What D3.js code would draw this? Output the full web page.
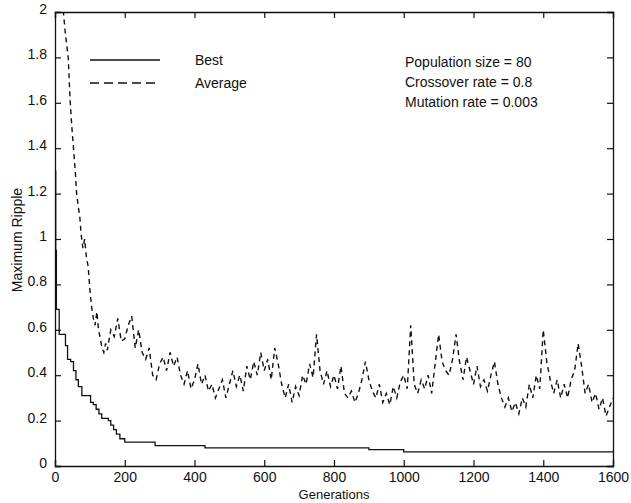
<!DOCTYPE html>
<html><head><meta charset="utf-8">
<script src="https://cdn.jsdelivr.net/npm/d3@7"></script>
<style>
body{margin:0;background:#fff;}
text{font-family:"Liberation Sans",Arial,Helvetica,sans-serif;fill:#111;}
</style></head>
<body><svg id="c" width="631" height="503"></svg>
<script>
const xTicks = [0,200,400,600,800,1000,1200,1400,1600];
const yTicks = [0,0.2,0.4,0.6,0.8,1,1.2,1.4,1.6,1.8,2];
const yTickLabels = ["0","0.2","0.4","0.6","0.8","1","1.2","1.4","1.6","1.8","2"];

const bestGen = [0,2,4,12,30,36,45,53,60,67,77,102,110,118,126,134,153,160,168,176,186,200,287,430,900,1000,1600];
const bestVal = [1.3,0.95,0.69,0.58,0.53,0.47,0.46,0.42,0.38,0.35,0.31,0.28,0.27,0.25,0.23,0.21,0.2,0.18,0.16,0.14,0.12,0.105,0.09,0.08,0.072,0.062,0.062];

const avgGen = [0,10,20,24,30,38,43,48,53,58,62,67,71,75,80,85,90,95,100,105,110,115,120,125,130,135,140,145,150,
 160,170,180,190,200,210,220,230,240,250,260,270,280,290,300,310,320,330,340,350,360,370,380,390,400,
 410,420,430,440,450,460,470,480,490,500,510,520,530,540,550,560,570,580,590,600,610,620,630,640,650,
 660,670,680,690,700,710,720,730,740,750,760,770,780,790,800,810,820,830,840,850,860,870,880,890,900,
 910,920,930,940,950,960,970,980,990,1000,1010,1020,1030,1040,1050,1060,1070,1080,1090,1100,1110,1120,1130,1140,1150,
 1160,1170,1180,1190,1200,1210,1220,1230,1240,1250,1260,1270,1280,1290,1300,1310,1320,1330,1340,1350,1360,1370,1380,1390,1400,
 1410,1420,1430,1440,1450,1460,1470,1480,1490,1500,1510,1520,1530,1540,1550,1560,1570,1580,1590,1600];
const avgVal = [2.6,2.35,2.08,2.0,1.9,1.8,1.62,1.5,1.4,1.3,1.2,1.14,1.1,1.02,0.96,1.0,0.92,0.88,0.78,0.7,0.65,0.62,0.68,0.6,0.56,0.52,0.5,0.54,0.51,
 0.6,0.57,0.65,0.55,0.56,0.62,0.66,0.52,0.6,0.5,0.47,0.52,0.4,0.38,0.45,0.48,0.42,0.5,0.44,0.48,0.4,0.36,0.42,0.34,0.38,
 0.45,0.36,0.4,0.33,0.36,0.3,0.34,0.38,0.3,0.36,0.42,0.35,0.4,0.33,0.44,0.38,0.46,0.4,0.5,0.42,0.47,0.38,0.52,0.45,0.36,
 0.3,0.36,0.28,0.35,0.31,0.4,0.36,0.45,0.39,0.58,0.42,0.36,0.42,0.35,0.4,0.34,0.44,0.32,0.3,0.33,0.28,0.32,0.38,0.46,0.38,
 0.33,0.3,0.36,0.28,0.32,0.27,0.35,0.3,0.37,0.4,0.34,0.62,0.36,0.32,0.38,0.34,0.4,0.32,0.45,0.58,0.46,0.42,0.4,0.47,0.58,
 0.46,0.38,0.48,0.42,0.36,0.44,0.35,0.38,0.33,0.4,0.46,0.36,0.3,0.26,0.3,0.24,0.28,0.23,0.3,0.26,0.36,0.3,0.4,0.34,0.6,
 0.46,0.38,0.32,0.38,0.3,0.36,0.3,0.38,0.42,0.54,0.44,0.32,0.36,0.28,0.32,0.25,0.3,0.22,0.26,0.3];

const legendLabels = ["Best","Average"];
const paramLabels = ["Population size = 80","Crossover rate = 0.8","Mutation rate = 0.003"];

const L=55,R=613,T=12,B=466;
const svg=d3.select("#c");
svg.append("rect").attr("width",631).attr("height",503).attr("fill","#fff");
const x=d3.scaleLinear().domain([0,1600]).range([L,R]);
const y=d3.scaleLinear().domain([0,2]).range([B,T]);

svg.append("defs").append("clipPath").attr("id","clip").append("rect")
  .attr("x",L).attr("y",T).attr("width",R-L).attr("height",B-T);

const fs="14px";
const axB=svg.append("g").attr("transform",`translate(0,${B})`).call(d3.axisBottom(x).tickValues(xTicks).tickSize(-6).tickPadding(6).tickFormat(d3.format("d")));
const axT=svg.append("g").attr("transform",`translate(0,${T})`).call(d3.axisTop(x).tickValues(xTicks).tickSize(-6).tickFormat(""));
const axL=svg.append("g").attr("transform",`translate(${L},0)`).call(d3.axisLeft(y).tickValues(yTicks).tickSize(-6).tickPadding(8).tickFormat((d,i)=>yTickLabels[i]));
const axR=svg.append("g").attr("transform",`translate(${R},0)`).call(d3.axisRight(y).tickValues(yTicks).tickSize(-6).tickFormat(""));
[axB,axT,axL,axR].forEach(g=>{
  g.select(".domain").attr("stroke","#111").attr("stroke-width",1.3);
  g.selectAll(".tick line").attr("stroke","#111").attr("stroke-width",1.2);
  g.selectAll(".tick text").attr("font-size",fs).attr("fill","#111").attr("font-family","Liberation Sans, Arial, sans-serif");
});
axL.selectAll(".tick text").attr("dy","0.1em");

const bestData=bestGen.map((g,i)=>[g,bestVal[i]]);
const avgData=avgGen.map((g,i)=>[g,avgVal[i]]);
const g=svg.append("g").attr("clip-path","url(#clip)");
g.append("path").datum(bestData)
  .attr("d",d3.line().x(d=>x(d[0])).y(d=>y(d[1])).curve(d3.curveStepAfter))
  .attr("fill","none").attr("stroke","#111").attr("stroke-width",1.3);
g.append("path").datum(avgData)
  .attr("d",d3.line().x(d=>x(d[0])).y(d=>y(d[1])))
  .attr("fill","none").attr("stroke","#111").attr("stroke-width",1.4).attr("stroke-dasharray","5,4");

svg.append("line").attr("x1",90).attr("x2",160).attr("y1",60).attr("y2",60).attr("stroke","#111").attr("stroke-width",1.3);
svg.append("line").attr("x1",90).attr("x2",160).attr("y1",83).attr("y2",83).attr("stroke","#111").attr("stroke-width",1.3).attr("stroke-dasharray","9,5");
legendLabels.forEach((t,i)=>svg.append("text").attr("x",195).attr("y",65+i*23).attr("font-size",fs).text(t));
paramLabels.forEach((t,i)=>svg.append("text").attr("x",405).attr("y",67+i*20).attr("font-size",fs).text(t));

svg.append("text").attr("x",334).attr("y",499).attr("text-anchor","middle").attr("font-size","13px").text("Generations");
svg.append("text").attr("transform","translate(22,240) rotate(-90)").attr("text-anchor","middle").attr("font-size",fs).text("Maximum Ripple");
</script></body></html>
